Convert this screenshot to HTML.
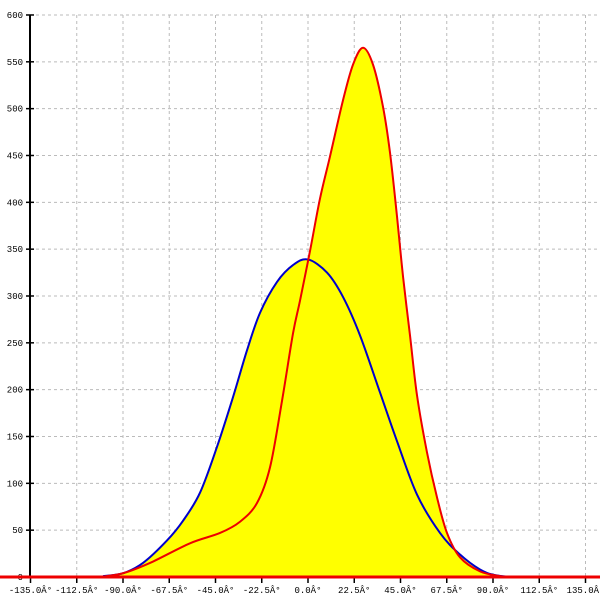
<!DOCTYPE html>
<html><head><style>body{margin:0;background:#fff}svg{display:block}text{font-family:"Liberation Mono",monospace;font-size:9px;fill:#000}</style></head>
<body>
<svg id="s" width="600" height="600" xmlns="http://www.w3.org/2000/svg"></svg>
<script>
const s=document.getElementById('s');let h='';
const X=d=>308+d/22.5*46.25, Y=v=>577-v*0.9367;
for(let i=-5;i<=6;i++){const x=X(i*22.5);h+=`<line x1="${x}" y1="15" x2="${x}" y2="577" stroke="#bbb" stroke-dasharray="3,3"/>`;}
for(let v=50;v<=600;v+=50){const y=Y(v);h+=`<line x1="30" y1="${y}" x2="600" y2="${y}" stroke="#bbb" stroke-dasharray="3,3"/>`;}
const red=[[100,0],[123,4],[150,15],[190,36],[220,47],[240,59],[257,79],[270,117],[282,188],[293,260],[300,295],[310,348],[320,404],[330,449],[343,509],[353,547],[363,565],[373,547],[383,502],[390,453],[397,385],[403,321],[410,258],[417,194],[427,133],[437,85],[447,47],[460,21],[480,6],[500,1],[515,0]];
const blue=[[103,1],[123,4],[143,15],[167,39],[183,60],[200,90],[217,139],[233,192],[247,242],[260,282],[277,315],[293,333],[308,339],[327,325],[343,299],[360,258],[380,197],[397,145],[417,88],[440,47],[460,24],[480,8],[495,2],[513,0]];
function path(p){const q=p.map(a=>[a[0],Y(a[1])]);let d=`M${q[0][0]},${q[0][1]}`;
for(let i=0;i<q.length-1;i++){const p0=q[i-1]||q[i],p1=q[i],p2=q[i+1],p3=q[i+2]||p2;
d+=` C${p1[0]+(p2[0]-p0[0])/6},${p1[1]+(p2[1]-p0[1])/6} ${p2[0]-(p3[0]-p1[0])/6},${p2[1]-(p3[1]-p1[1])/6} ${p2[0]},${p2[1]}`;}return d;}
const rp=path(red),bp=path(blue);
h+=`<path d="${rp} L515,577 L100,577Z" fill="#ffff00"/><path d="${bp} L513,577 L103,577Z" fill="#ffff00"/>`;
h+=`<path d="${bp}" fill="none" stroke="#0000cc" stroke-width="2"/>`;
h+=`<path d="${rp}" fill="none" stroke="#ee0000" stroke-width="2"/>`;
h+=`<line x1="30" y1="15" x2="30" y2="577" stroke="#000" stroke-width="2"/>`;
for(let v=0;v<=600;v+=50){const y=Y(v);h+=`<line x1="26" y1="${y}" x2="34" y2="${y}" stroke="#000" stroke-width="1.5"/><text x="23" y="${y+3}" text-anchor="end">${v}</text>`;}
for(let i=-6;i<=6;i++){const x=X(i*22.5);h+=`<line x1="${x}" y1="577" x2="${x}" y2="583" stroke="#000" stroke-width="1.5"/><text x="${x}" y="593" text-anchor="middle">${(i*22.5).toFixed(1)}Â°</text>`;}
h+=`<line x1="0" y1="577" x2="600" y2="577" stroke="#ee0000" stroke-width="3"/>`;
s.innerHTML=h;
</script>
</body></html>
